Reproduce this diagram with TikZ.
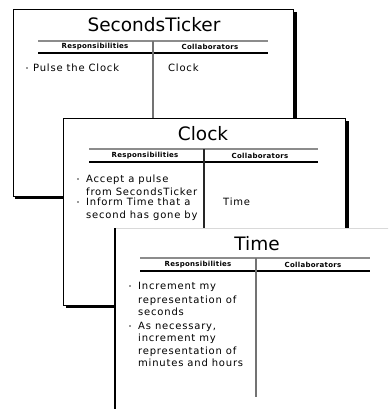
\documentclass[tikz,border=0pt]{standalone}
\usepackage{fontspec}
\setmainfont{DejaVu Sans}
\newfontfamily\bodyfont[LetterSpace=8]{DejaVu Sans}
\newfontfamily\hdrfont[LetterSpace=4]{DejaVu Sans}
\begin{document}
\begin{tikzpicture}[x=1pt,y=-1pt,
  card/.style={fill=white,draw=black,line width=1pt},
  shadowline/.style={line width=3.5pt,black},
  topline/.style={line width=1.2pt,black!45},
  botline/.style={line width=1.2pt,black},
  divline/.style={line width=1.6pt,black!55},
  ttl/.style={font=\fontsize{18.5}{20}\selectfont,anchor=center,inner sep=0pt},
  hdr/.style={font=\hdrfont\fontsize{7}{8}\selectfont\bfseries,anchor=center,inner sep=0pt},
  body/.style={font=\bodyfont\fontsize{10}{11}\selectfont,anchor=mid west,inner sep=0pt},
  bul/.style={circle,fill=black!80,inner sep=0pt,minimum size=1.8pt}]
\useasboundingbox (0,0) rectangle (388,409);
\clip (0,0) rectangle (388,409);
% ---- SecondsTicker card
\draw[shadowline] (295,12) -- (295,197.5) -- (15,197.5);
\draw[card] (13,10) rectangle (293,196);
\node[ttl] (stT) at (154,25) {SecondsTicker};
\draw[topline] (38,41) -- (268,41);
\draw[botline] (38,53) -- (268,53);
\coordinate (stD1) at (153,41);
\coordinate (stD2) at (153,196);
\draw[divline] (stD1) -- (stD2);
\node[hdr] (stR) at (95,47) {Responsibilities};
\node[hdr] (stC) at (210,47) {Collaborators};
\node[bul] (stb1) at (27,68) {};
\node[body] (st1) at (33,69) {Pulse the Clock};
\node[body] (stc1) at (168,69) {Clock};
% ---- Clock card
\draw[shadowline] (347,121) -- (347,306.5) -- (66,306.5);
\draw[card] (63.5,118) rectangle (345,305);
\node[ttl] (ckT) at (203,134) {Clock};
\draw[topline] (89,149) -- (318,149);
\draw[botline] (89,162) -- (318,162);
\coordinate (ckD1) at (204,149);
\coordinate (ckD2) at (204,305);
\draw[line width=1.6pt,black!85] (ckD1) -- (ckD2);
\node[hdr] (ckR) at (145,155.5) {Responsibilities};
\node[hdr] (ckC) at (260,155.5) {Collaborators};
\node[bul] (ckb1) at (78,179) {};
\node[body] (ck1) at (86,180) {Accept a pulse};
\node[body] (ck2) at (86,193) {from SecondsTicker};
\node[bul] (ckb2) at (78,202) {};
\node[body] (ck3) at (86,203) {Inform Time that a};
\node[body] (ck4) at (86,216) {second has gone by};
\node[body] (ckc1) at (223,203) {Time};
% ---- Time card
\fill[white] (115,228) rectangle (400,420);
\draw[black!15,line width=0.8pt] (115,228) -- (400,228);
\draw[black,line width=1.4pt] (115,228) -- (115,420);
\node[ttl] (tmT) at (257,244) {Time};
\draw[topline] (140,258) -- (370,258);
\draw[botline] (140,271) -- (370,271);
\coordinate (tmD1) at (256,258);
\coordinate (tmD2) at (256,397);
\draw[divline] (tmD1) -- (tmD2);
\node[hdr] (tmR) at (198,264.5) {Responsibilities};
\node[hdr] (tmC) at (313,264.5) {Collaborators};
\node[bul] (tmb1) at (130,286) {};
\node[body] (tm1) at (138,287) {Increment my};
\node[body] (tm2) at (138,301) {representation of};
\node[body] (tm3) at (138,313) {seconds};
\node[bul] (tmb2) at (130,326) {};
\node[body] (tm4) at (138,327) {As necessary,};
\node[body] (tm5) at (138,339) {increment my};
\node[body] (tm6) at (138,352) {representation of};
\node[body] (tm7) at (138,364) {minutes and hours};
\end{tikzpicture}
\end{document}
